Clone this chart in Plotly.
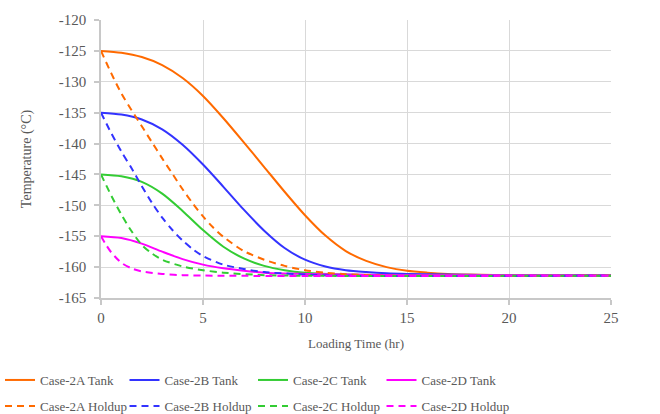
import plotly.graph_objects as go

# ---- data ----
t_2a_tank = [0, 1, 2, 3, 4, 5, 6, 7, 8, 9, 10, 11, 12, 13, 14, 15, 16, 17, 18, 20, 25]
v_2a_tank = [-125.0, -125.3, -126.0, -127.3, -129.4, -132.3, -135.9, -139.8, -143.8, -147.8,
             -151.6, -154.9, -157.4, -159.0, -160.0, -160.6, -160.9, -161.1, -161.2, -161.3, -161.3]

t_2b_tank = [0, 1, 2, 3, 4, 5, 6, 7, 8, 9, 10, 11, 12, 13, 14, 15, 17, 20, 25]
v_2b_tank = [-135.0, -135.3, -136.1, -137.7, -140.2, -143.4, -147.0, -150.7, -154.1, -156.9,
             -158.8, -159.9, -160.5, -160.8, -161.0, -161.1, -161.2, -161.3, -161.3]

t_2c_tank = [0, 1, 2, 3, 4, 5, 6, 7, 8, 9, 10, 12, 15, 20, 25]
v_2c_tank = [-145.0, -145.3, -146.2, -148.1, -150.9, -154.0, -156.7, -158.6, -159.8, -160.5,
             -160.9, -161.2, -161.3, -161.3, -161.3]

t_2d_tank = [0, 1, 2, 3, 4, 5, 6, 7, 8, 10, 12, 15, 20, 25]
v_2d_tank = [-155.0, -155.3, -156.2, -157.5, -158.7, -159.6, -160.2, -160.6, -160.9, -161.1,
             -161.2, -161.3, -161.3, -161.3]

t_2a_hold = [0, 0.5, 1, 1.5, 2, 2.5, 3, 3.5, 4, 4.5, 5, 5.5, 6, 7, 8, 9, 10, 11, 12, 14, 25]
v_2a_hold = [-125.0, -128.6, -131.9, -134.6, -137.2, -139.8, -142.4, -144.9, -147.4, -149.7,
             -151.8, -153.6, -155.1, -157.4, -158.8, -159.8, -160.5, -160.9, -161.15, -161.4, -161.4]

t_2b_hold = [0, 0.5, 1, 1.5, 2, 2.5, 3, 3.5, 4, 4.5, 5, 6, 7, 8, 10, 12, 25]
v_2b_hold = [-135.0, -138.3, -141.3, -144.0, -146.9, -149.6, -152.0, -154.0, -155.7, -157.1,
             -158.2, -159.6, -160.3, -160.8, -161.2, -161.4, -161.4]

t_2c_hold = [0, 0.5, 1, 1.5, 2, 2.5, 3, 4, 5, 6, 8, 10, 25]
v_2c_hold = [-145.0, -148.4, -151.5, -154.2, -156.4, -157.8, -158.8, -159.9, -160.5, -160.9,
             -161.3, -161.4, -161.4]

t_2d_hold = [0, 0.25, 0.5, 1, 1.5, 2, 3, 4, 6, 25]
v_2d_hold = [-155.0, -156.4, -157.6, -159.3, -160.2, -160.7, -161.1, -161.3, -161.4, -161.4]

tank_names = ["Case-2A Tank", "Case-2B Tank", "Case-2C Tank", "Case-2D Tank"]
hold_names = ["Case-2A Holdup", "Case-2B Holdup", "Case-2C Holdup", "Case-2D Holdup"]
colors = ["#FF6A00", "#3333FF", "#33CC33", "#FF00FF"]

x_ticks = [0, 5, 10, 15, 20, 25]
x_ticktext = ["0", "5", "10", "15", "20", "25"]
y_ticks = [-165, -160, -155, -150, -145, -140, -135, -130, -125, -120]
y_ticktext = ["-165", "-160", "-155", "-150", "-145", "-140", "-135", "-130", "-125", "-120"]

tanks = [(t_2a_tank, v_2a_tank), (t_2b_tank, v_2b_tank), (t_2c_tank, v_2c_tank), (t_2d_tank, v_2d_tank)]
holds = [(t_2a_hold, v_2a_hold), (t_2b_hold, v_2b_hold), (t_2c_hold, v_2c_hold), (t_2d_hold, v_2d_hold)]

font_family = "Liberation Serif"
grey = "#595959"

fig = go.Figure()
legend_layout = {}
col_w = 128.5
row_y = [380, 406]
idx = 1
for row, (series, names, dash) in enumerate([(tanks, tank_names, "solid"), (holds, hold_names, "7px,5px")]):
    for col, ((t, v), name, c) in enumerate(zip(series, names, colors)):
        key = "legend" if idx == 1 else f"legend{idx}"
        fig.add_trace(go.Scatter(x=t, y=v, name=name, mode="lines", legend=key, showlegend=True,
                                 line=dict(color=c, width=2, dash=dash, shape="spline", smoothing=0.8)))
        legend_layout[key] = dict(orientation="h", xref="container", yref="container",
                                  x=(col * col_w - 4) / 660, y=1 - row_y[row] / 414, yanchor="middle",
                                  font=dict(size=13, family=font_family, color=grey), itemwidth=30,
                                  bgcolor="rgba(0,0,0,0)", visible=True)
        idx += 1

fig.update_layout(
    width=660, height=414,
    showlegend=True,
    margin=dict(l=101, r=49, t=15, b=116),
    paper_bgcolor="white", plot_bgcolor="white",
    font=dict(family=font_family, color=grey, size=13),
    xaxis=dict(range=[0, 25], tickvals=x_ticks, ticktext=x_ticktext, showgrid=True, gridcolor="#d9d9d9", gridwidth=1.3,
               zeroline=False, showline=True, linecolor="#c8c8c8", linewidth=1.5,
               ticks="outside", ticklen=5, tickcolor="#c8c8c8", tickwidth=1.5,
               tickfont=dict(size=15, family=font_family, color=grey),
               title=dict(text="Loading Time (hr)", font=dict(size=13, family=font_family, color=grey), standoff=14)),
    yaxis=dict(range=[-165, -120], tickvals=y_ticks, ticktext=y_ticktext, showgrid=True, gridcolor="#d9d9d9", gridwidth=1.3,
               zeroline=False, showline=True, linecolor="#c8c8c8", linewidth=1.5,
               ticks="outside", ticklen=5, tickcolor="#c8c8c8", tickwidth=1.5, ticklabelstandoff=5,
               tickfont=dict(size=15, family=font_family, color=grey),
               title=dict(text="Temperature (°C)", font=dict(size=14, family=font_family, color=grey), standoff=24)),
    **legend_layout,
)

fig.write_html("out.html")
